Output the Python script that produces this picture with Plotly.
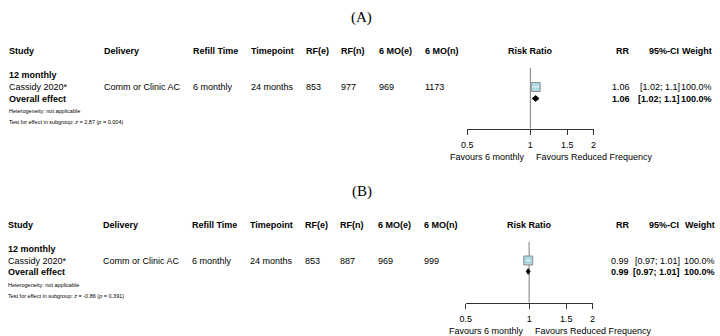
import plotly.graph_objects as go
import math

# ---------------- data ----------------
panel_titles = ["(A)", "(B)"]
headers = ["Study", "Delivery", "Refill Time", "Timepoint", "RF(e)", "RF(n)",
           "6 MO(e)", "6 MO(n)", "Risk Ratio", "RR", "95%-CI", "Weight"]
subgroup = ["12 monthly", "12 monthly"]
study = ["Cassidy 2020*", "Cassidy 2020*"]
delivery = ["Comm or Clinic AC", "Comm or Clinic AC"]
refill_time = ["6 monthly", "6 monthly"]
timepoint = ["24 months", "24 months"]
rf_e = [853, 853]
rf_n = [977, 887]
mo_e = [969, 969]
mo_n = [1173, 999]
rr = [1.06, 0.99]
ci_lo = [1.02, 0.97]
ci_hi = [1.10, 1.01]
ci_text = ["[1.02; 1.1]", "[0.97; 1.01]"]
weight = ["100.0%", "100.0%"]
z_val = ["2.87", "-0.86"]
p_val = ["0.004", "0.391"]
tick_vals = [0.5, 1, 1.5, 2]
tick_text = ["0.5", "1", "1.5", "2"]
fav_left = "Favours 6 monthly"
fav_right = "Favours Reduced Frequency"

W, H = 720, 336
FONT = "Liberation Sans"
OFFSET = 174  # vertical distance between panels (px)


def py(y):
    return 1 - y / H


def px(x):
    return x / W


fig = go.Figure()
ann = []


def text(x, y, s, anchor="left", size=9, bold=False, family=FONT):
    if bold:
        s = "<b>" + s + "</b>"
    ann.append(dict(x=px(x), y=py(y), xref="paper", yref="paper", text=s,
                    showarrow=False, xanchor=anchor, yanchor="middle",
                    font=dict(family=family, size=size, color="#000000"),
                    borderpad=0))


for i in range(2):
    oy = OFFSET * i
    dx = -1 if i == 1 else 0
    wr = 716 if i == 0 else 719
    # title
    text(360, 17 + oy, panel_titles[i], anchor="center", size=15, family="Liberation Serif")
    # headers
    hy = 51 + oy
    hx = [(2, "left"), (98, "left"), (188, "left"), (247, "left"), (303, "left"), (338, "left"),
          (377, "left"), (423, "left"), (531, "center"), (633, "right"),
          (683, "right"), (wr, "right")]
    for (x, a), h in zip(hx, headers):
        text(x + (dx if a != "right" else 0), hy, h, anchor=a, bold=True)
    # subgroup
    text(2 + dx, 75 + oy, subgroup[i], bold=True)
    # study row
    ry = 87 + oy
    row = [study[i], delivery[i], refill_time[i], timepoint[i], str(rf_e[i]), str(rf_n[i]),
           str(mo_e[i]), str(mo_n[i])]
    for (x, a), s in zip(hx[:8], row):
        text(x + dx, ry, s, anchor=a)
    rr_right = 633 if i == 0 else 632
    ci_right = 684
    text(rr_right, ry, "%.2f" % rr[i], anchor="right")
    text(ci_right, ry, ci_text[i], anchor="right")
    text(wr, ry, weight[i], anchor="right")
    # overall
    oyy = 99 + oy - (1 if i == 1 else 0)
    text(2 + dx, oyy, "Overall effect", bold=True)
    text(rr_right, oyy, "%.2f" % rr[i], anchor="right", bold=True)
    text(ci_right, oyy, ci_text[i], anchor="right", bold=True)
    text(wr, oyy, weight[i], anchor="right", bold=True)
    # heterogeneity / test
    text(2 + dx, 110.5 + oy, "Heterogeneity: not applicable", size=5.5)
    text(2 + dx, 122 + oy,
         "Test for effect in subgroup: <i>z</i> = %s (<i>p</i> = %s)" % (z_val[i], p_val[i]),
         size=5.5)
    # favours labels
    text(527 + dx, 157 + oy, fav_left, anchor="right")
    text(536 + dx, 157 + oy, fav_right, anchor="left")

    xa = "x" if i == 0 else "x2"
    axis_y = 128.5 + oy
    # reference line at RR = 1
    fig.add_trace(go.Scatter(x=[1, 1], y=[68 + oy, axis_y], xaxis=xa, yaxis="y", mode="lines",
                             line=dict(color="#7f7f7f", width=1), hoverinfo="skip",
                             showlegend=False))
    # study square
    sy = 87 + oy - (0.5 if i == 1 else 0)
    fig.add_trace(go.Scatter(x=[rr[i]], y=[sy], xaxis=xa, yaxis="y", mode="markers",
                             marker=dict(symbol="square", size=9, color="#add8e6",
                                         line=dict(color="#8c8c8c", width=1)),
                             hoverinfo="skip", showlegend=False))
    # CI line inside square
    fig.add_trace(go.Scatter(x=[ci_lo[i], ci_hi[i]], y=[sy, sy], xaxis=xa, yaxis="y",
                             mode="lines", line=dict(color="#eef7fb", width=1),
                             hoverinfo="skip", showlegend=False))
    # diamond
    dy = 98.5 + oy - (1 if i == 1 else 0)
    hh = 2.8
    fig.add_trace(go.Scatter(x=[ci_lo[i], rr[i], ci_hi[i], rr[i], ci_lo[i]],
                             y=[dy, dy - hh, dy, dy + hh, dy], xaxis=xa, yaxis="y",
                             mode="lines", fill="toself", fillcolor="#000000",
                             line=dict(color="#000000", width=1), hoverinfo="skip",
                             showlegend=False))

axis_common = dict(type="log", range=[math.log10(0.5), math.log10(2)], tickvals=tick_vals,
                   ticktext=tick_text, showline=True, linecolor="#333333", linewidth=1,
                   ticks="outside", ticklen=5, tickcolor="#333333", showgrid=False,
                   zeroline=False, anchor="free",
                   tickfont=dict(family=FONT, size=9, color="#000000"),
                   ticklabelstandoff=3, fixedrange=True)

fig.update_layout(
    width=W, height=H, margin=dict(l=0, r=0, t=0, b=0),
    paper_bgcolor="white", plot_bgcolor="rgba(0,0,0,0)",
    xaxis=dict(domain=[px(467), px(595)], position=py(128.5), **axis_common),
    xaxis2=dict(domain=[px(465.5), px(594)], position=py(128.5 + OFFSET), **axis_common),
    yaxis=dict(domain=[0, 1], range=[H, 0], visible=False, fixedrange=True),
    annotations=ann,
    showlegend=False,
)

fig.write_html(
    "out.html",
    config={"responsive": False, "displayModeBar": False},
    post_script="document.body.style.margin='0';document.body.style.overflow='hidden';",
)
